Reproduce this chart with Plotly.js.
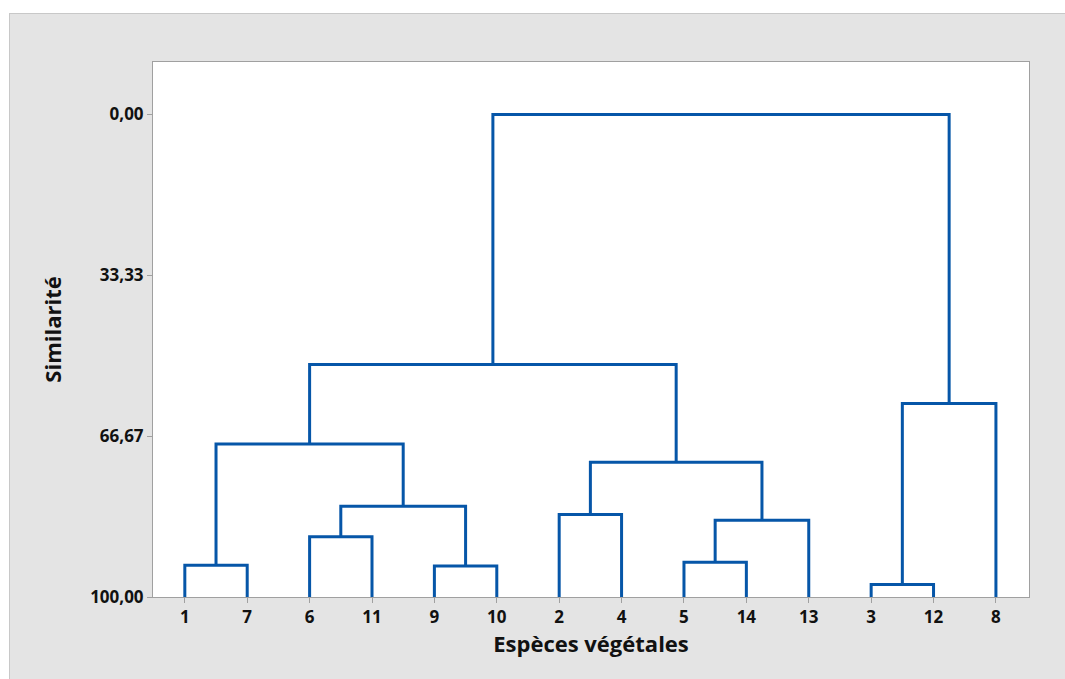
<!DOCTYPE html>
<html>
<head>
<meta charset="utf-8">
<script src="https://cdn.plot.ly/plotly-3.0.1.min.js"></script>
<style>
  html, body { margin: 0; padding: 0; background: #ffffff; width: 1065px; height: 679px; overflow: hidden; }
  #frame { position: absolute; left: 9px; top: 13px; width: 1056px; height: 666px; box-sizing: border-box;
           border-left: 1px solid #c8c8c8; border-top: 1px solid #c8c8c8; background: #e4e4e4; }
  #chart { width: 1055px; height: 665px; }
</style>
</head>
<body>
<div id="frame"><div id="chart"></div></div>
<script>
// Leaf labels in dendrogram order
const leafLabels = ['1', '7', '6', '11', '9', '10', '2', '4', '5', '14', '13', '3', '12', '8'];
// Merges (scipy-like): indices < 14 are leaves, >= 14 are earlier merges (14 + row index)
const mergeLeft  = [0, 2, 4, 15, 14, 6, 8, 20, 19, 18, 11, 24, 23];
const mergeRight = [1, 3, 5, 16, 17, 7, 9, 10, 21, 22, 12, 13, 25];
const mergeSimilarity = [93.4, 87.5, 93.6, 81.2, 68.3, 82.9, 92.8, 84.1, 72.1, 51.8, 97.4, 59.9, 0.0];
// Y-axis ticks
const yTickVals = [0, 33.33, 66.67, 100];
const yTickText = ['0,00', '33,33', '66,67', '100,00'];

const nLeaves = leafLabels.length;
const nodeX = [], nodeY = [];
for (let i = 0; i < nLeaves; i++) { nodeX.push(i + 1); nodeY.push(100); }
const xs = [], ys = [];
for (let k = 0; k < mergeLeft.length; k++) {
  const a = mergeLeft[k], b = mergeRight[k], h = mergeSimilarity[k];
  xs.push(nodeX[a], nodeX[a], nodeX[b], nodeX[b], null);
  ys.push(nodeY[a], h, h, nodeY[b], null);
  nodeX.push((nodeX[a] + nodeX[b]) / 2);
  nodeY.push(h);
}

const font = 'Open Sans, Noto Sans, DejaVu Sans, sans-serif';
const trace = {
  type: 'scatter', mode: 'lines', x: xs, y: ys,
  line: { color: '#0656a8', width: 3 },
  hoverinfo: 'skip', showlegend: false
};
const layout = {
  width: 1055, height: 665,
  margin: { l: 143, r: 36, t: 48, b: 82 },
  paper_bgcolor: '#e4e4e4', plot_bgcolor: '#ffffff',
  font: { family: font, color: '#111111' },
  xaxis: {
    range: [0.49, 14.53], tickmode: 'array',
    tickvals: leafLabels.map((_, i) => i + 1), ticktext: leafLabels,
    ticks: 'outside', ticklen: 5, tickcolor: '#a0a0a0', tickwidth: 1,
    showline: true, linecolor: '#a0a0a0', linewidth: 1, mirror: true,
    showgrid: false, zeroline: false,
    tickfont: { size: 17, family: font, weight: 'bold', color: '#111111' },
    title: { text: '<b>Espèces végétales</b>', font: { size: 22, family: font, color: '#111111' }, standoff: 7 }
  },
  yaxis: {
    range: [100, -10.87], tickmode: 'array', tickvals: yTickVals, ticktext: yTickText,
    ticks: 'outside', ticklen: 5, tickcolor: '#a0a0a0', tickwidth: 1,
    showline: true, linecolor: '#a0a0a0', linewidth: 1, mirror: true,
    showgrid: false, zeroline: false,
    tickfont: { size: 17, family: font, weight: 'bold', color: '#111111' },
    title: { text: '<b>Similarité</b>', font: { size: 22, family: font, color: '#111111' }, standoff: 22 }
  }
};
Plotly.newPlot('chart', [trace], layout, { displayModeBar: false, staticPlot: true });
</script>
</body>
</html>
